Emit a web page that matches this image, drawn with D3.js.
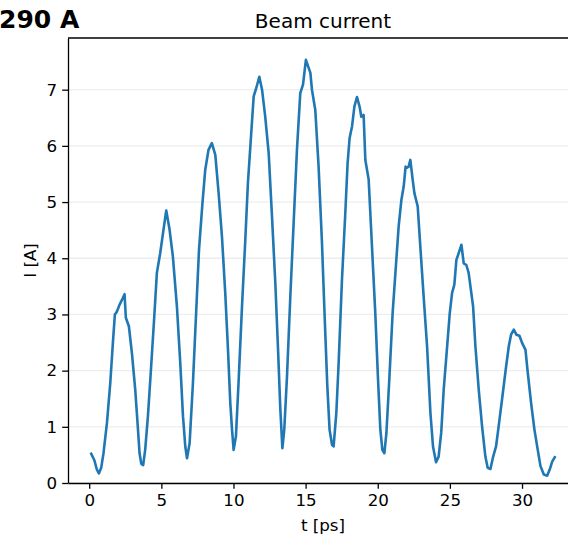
<!DOCTYPE html>
<html>
<head>
<meta charset="utf-8">
<script src="https://cdn.jsdelivr.net/npm/d3@7"></script>
<style>
  body { margin: 0; background: #fff; }
  svg { display: block; font-family: "DejaVu Sans", sans-serif; }
</style>
</head>
<body>
<script>
// time [ps] and beam current [A]
var times = [0.14, 0.35, 0.53, 0.67, 0.83, 0.99, 1.23, 1.46, 1.64, 1.78, 1.92, 2.10, 2.29, 2.45, 2.54, 2.75, 2.96, 3.19, 3.35, 3.49, 3.61, 3.74, 3.88, 4.07, 4.28, 4.51, 4.69, 4.92, 5.15, 5.34, 5.57, 5.80, 6.08, 6.31, 6.50, 6.66, 6.78, 6.96, 7.19, 7.42, 7.61, 7.84, 8.04, 8.27, 8.50, 8.74, 8.97, 9.20, 9.43, 9.62, 9.78, 9.90, 10.01, 10.17, 10.35, 10.59, 10.82, 11.00, 11.17, 11.40, 11.58, 11.79, 11.98, 12.20, 12.44, 12.67, 12.90, 13.09, 13.25, 13.39, 13.52, 13.71, 13.94, 14.17, 14.40, 14.63, 14.82, 15.02, 15.33, 15.44, 15.67, 15.90, 16.13, 16.30, 16.50, 16.66, 16.83, 16.94, 17.13, 17.29, 17.52, 17.75, 17.91, 18.05, 18.22, 18.38, 18.56, 18.74, 18.86, 19.02, 19.14, 19.37, 19.60, 19.83, 20.02, 20.18, 20.32, 20.46, 20.60, 20.80, 21.03, 21.27, 21.45, 21.64, 21.80, 21.93, 22.03, 22.14, 22.26, 22.39, 22.54, 22.77, 22.95, 23.18, 23.42, 23.65, 23.83, 24.04, 24.22, 24.40, 24.57, 24.81, 24.99, 25.15, 25.31, 25.45, 25.61, 25.80, 25.96, 26.14, 26.30, 26.61, 26.77, 27.00, 27.23, 27.46, 27.62, 27.81, 28.00, 28.20, 28.41, 28.64, 28.87, 29.08, 29.24, 29.43, 29.61, 29.82, 30.01, 30.24, 30.40, 30.63, 30.86, 31.09, 31.28, 31.51, 31.74, 31.92, 32.09, 32.27];
var current = [0.52, 0.41, 0.24, 0.17, 0.27, 0.53, 1.07, 1.78, 2.49, 3.00, 3.05, 3.17, 3.27, 3.36, 2.94, 2.79, 2.31, 1.66, 1.07, 0.53, 0.34, 0.32, 0.59, 1.19, 2.02, 2.96, 3.74, 4.09, 4.51, 4.85, 4.51, 4.03, 3.14, 2.14, 1.19, 0.65, 0.44, 0.71, 1.78, 3.08, 4.15, 4.95, 5.57, 5.93, 6.05, 5.84, 5.16, 4.39, 3.38, 2.37, 1.42, 0.95, 0.59, 0.83, 1.78, 3.14, 4.33, 5.34, 5.99, 6.88, 7.03, 7.23, 7.00, 6.52, 5.87, 4.74, 3.56, 2.37, 1.30, 0.62, 0.95, 1.90, 3.32, 4.63, 5.93, 6.94, 7.09, 7.53, 7.30, 7.00, 6.64, 5.63, 4.30, 3.10, 1.75, 0.95, 0.68, 0.65, 1.25, 2.14, 3.62, 4.80, 5.69, 6.14, 6.35, 6.70, 6.87, 6.70, 6.52, 6.55, 5.75, 5.40, 4.21, 3.02, 1.84, 0.95, 0.59, 0.53, 0.89, 1.84, 3.02, 3.91, 4.57, 5.04, 5.28, 5.63, 5.61, 5.63, 5.75, 5.46, 5.16, 4.92, 4.21, 3.32, 2.43, 1.25, 0.65, 0.37, 0.47, 0.90, 1.66, 2.43, 3.02, 3.38, 3.53, 3.97, 4.09, 4.24, 3.91, 3.88, 3.74, 3.14, 2.43, 1.66, 1.01, 0.47, 0.27, 0.25, 0.47, 0.65, 1.07, 1.54, 2.02, 2.43, 2.64, 2.73, 2.64, 2.62, 2.49, 2.37, 1.96, 1.42, 0.95, 0.59, 0.30, 0.15, 0.13, 0.24, 0.38, 0.46];
var xTicks = [0, 5, 10, 15, 20, 25, 30];
var yTicks = [0, 1, 2, 3, 4, 5, 6, 7];

var W = 568, H = 541;
var m = {left: 68, top: 38, bottom: 483, right: 578};

var svg = d3.select("body").append("svg")
  .attr("width", W)
  .attr("height", H);

var x = d3.scaleLinear().domain([-1.47, 33.88]).range([m.left, m.right]);
var y = d3.scaleLinear().domain([0, 7.92]).range([m.bottom, m.top]);

// faint horizontal grid
svg.append("g")
  .selectAll("line")
  .data(yTicks)
  .join("line")
  .attr("x1", m.left).attr("x2", m.right)
  .attr("y1", function(d) { return y(d); })
  .attr("y2", function(d) { return y(d); })
  .attr("stroke", "#ededed")
  .attr("stroke-width", 1.3);

var data = times.map(function(t, i) { return [t, current[i]]; });
var line = d3.line()
  .x(function(d) { return x(d[0]); })
  .y(function(d) { return y(d[1]); });

svg.append("path")
  .datum(data)
  .attr("fill", "none")
  .attr("stroke", "#1f77b4")
  .attr("stroke-width", 2.6)
  .attr("stroke-linejoin", "round")
  .attr("stroke-linecap", "square")
  .attr("d", line);

var xAxis = svg.append("g")
  .attr("transform", "translate(0," + m.bottom + ")")
  .call(d3.axisBottom(x).tickValues(xTicks).tickSize(5.8).tickPadding(5).tickSizeOuter(0));
var yAxis = svg.append("g")
  .attr("transform", "translate(" + m.left + ",0)")
  .call(d3.axisLeft(y).tickValues(yTicks).tickSize(5.8).tickPadding(5).tickSizeOuter(0));

[xAxis, yAxis].forEach(function(g) {
  g.select(".domain").attr("stroke", "#000").attr("stroke-width", 1.3);
  g.selectAll(".tick line").attr("stroke", "#000").attr("stroke-width", 1.3);
  g.selectAll(".tick text")
    .attr("fill", "#000")
    .style("font-size", "16.7px")
    .style("font-family", "DejaVu Sans");
});

// top spine
svg.append("line")
  .attr("x1", m.left).attr("x2", m.right)
  .attr("y1", m.top).attr("y2", m.top)
  .attr("stroke", "#000").attr("stroke-width", 1.3);

svg.append("text")
  .attr("x", (m.left + m.right) / 2)
  .attr("y", 28)
  .attr("text-anchor", "middle")
  .style("font-size", "20px")
  .text("Beam current");

svg.append("text")
  .attr("x", (m.left + m.right) / 2)
  .attr("y", 531)
  .attr("text-anchor", "middle")
  .style("font-size", "16.7px")
  .text("t [ps]");

svg.append("text")
  .attr("transform", "translate(36," + ((m.top + m.bottom) / 2) + ") rotate(-90)")
  .attr("text-anchor", "middle")
  .style("font-size", "16.7px")
  .text("I [A]");

svg.append("text")
  .attr("x", -1)
  .attr("y", 28)
  .style("font-family", "DejaVu Sans")
  .style("font-weight", "bold")
  .style("font-size", "25px")
  .text("290 A");
</script>
</body>
</html>
